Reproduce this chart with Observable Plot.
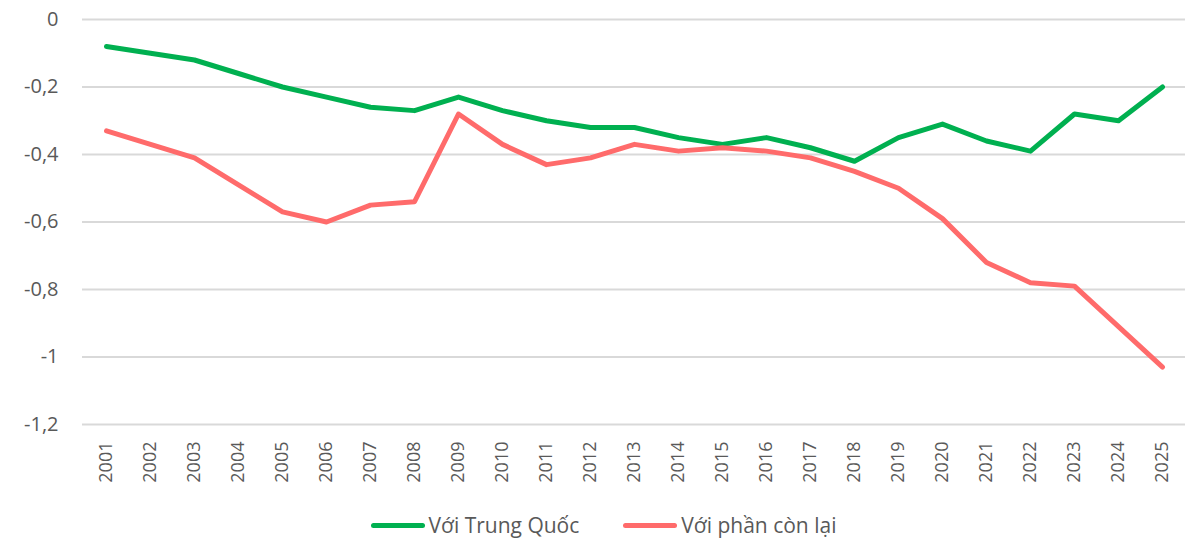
<!DOCTYPE html>
<html><head><meta charset="utf-8">
<script src="https://cdn.jsdelivr.net/npm/d3@7"></script>
<script src="https://cdn.jsdelivr.net/npm/@observablehq/plot@0.6"></script>
<style>
body{margin:0;background:#fff;font-family:"Open Sans",sans-serif;}
#legend{display:flex;justify-content:center;gap:44px;font-size:21px;color:#595959;margin-top:11px;margin-left:14px;}
.it{display:flex;align-items:center;}
.sw{width:54px;height:5px;border-radius:3px;margin-right:4px;}
</style></head><body>
<div id="chart"></div>
<div id="legend"></div>
<script>
const years = ["2001","2002","2003","2004","2005","2006","2007","2008","2009","2010","2011","2012","2013","2014","2015","2016","2017","2018","2019","2020","2021","2022","2023","2024","2025"];
const china = [-0.08,-0.10,-0.12,-0.16,-0.20,-0.23,-0.26,-0.27,-0.23,-0.27,-0.30,-0.32,-0.32,-0.35,-0.37,-0.35,-0.38,-0.42,-0.35,-0.31,-0.36,-0.39,-0.28,-0.30,-0.20];
const rest = [-0.33,-0.37,-0.41,-0.49,-0.57,-0.60,-0.55,-0.54,-0.28,-0.37,-0.43,-0.41,-0.37,-0.39,-0.38,-0.39,-0.41,-0.45,-0.50,-0.59,-0.72,-0.78,-0.79,-0.91,-1.03];
const seriesNames = ["Với Trung Quốc","Với phần còn lại"];
const colors = ["#00B050","#FF6B6B"];
const yTicks = [0,-0.2,-0.4,-0.6,-0.8,-1,-1.2];

const data = [];
years.forEach((y,i)=>{ data.push({year:y,value:china[i],s:seriesNames[0]}); data.push({year:y,value:rest[i],s:seriesNames[1]}); });

const fmt = v => String(+v.toFixed(1)).replace(".",",");

const chart = Plot.plot({
  width:1193, height:500,
  marginLeft:82, marginRight:8, marginTop:19, marginBottom:76,
  style:{fontFamily:"Open Sans, sans-serif", color:"#595959", background:"#fff"},
  x:{type:"point", domain:years, padding:0.5, label:null},
  y:{domain:[-1.2,0], label:null},
  color:{domain:seriesNames, range:colors},
  marks:[
    Plot.gridY(yTicks,{stroke:"#d9d9d9", strokeOpacity:1, strokeWidth:2}),
    Plot.axisY(yTicks,{tickSize:0, tickPadding:24, tickFormat:fmt, fontSize:20, fill:"#595959"}),
    Plot.axisX({tickSize:0, tickPadding:17, tickRotate:-90, fontSize:18, fill:"#595959"}),
    Plot.line(data,{x:"year", y:"value", z:"s", stroke:"s", strokeWidth:5, strokeLinejoin:"round", strokeLinecap:"round"})
  ]
});
document.getElementById("chart").appendChild(chart);
const lg = document.getElementById("legend");
seriesNames.forEach((n,i)=>{
  const d=document.createElement("div"); d.className="it";
  d.innerHTML=`<span class="sw" style="background:${colors[i]}"></span><span>${n}</span>`;
  lg.appendChild(d);
});
</script></body></html>
